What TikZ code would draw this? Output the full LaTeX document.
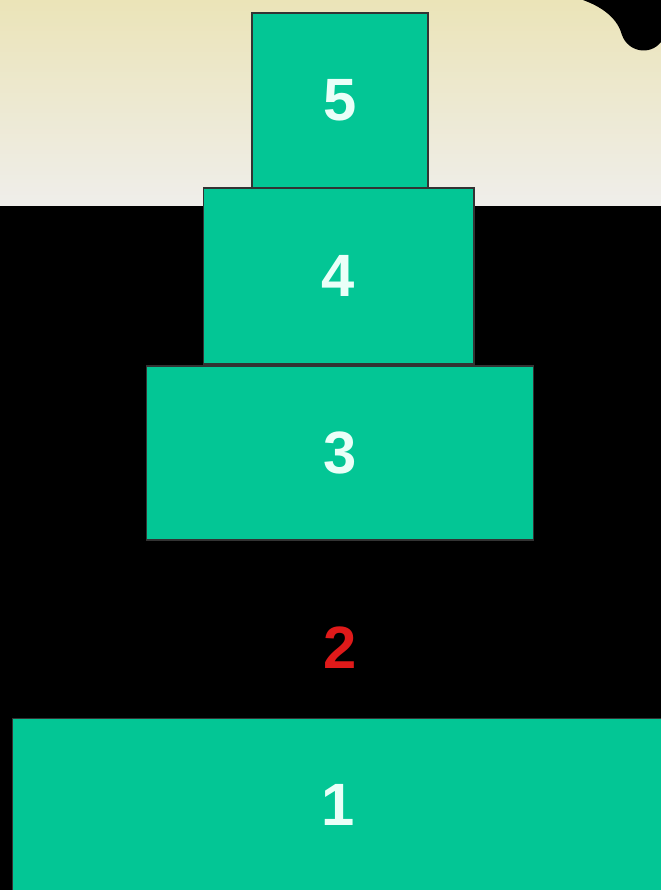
\documentclass[tikz,border=0pt]{standalone}
\usepackage{fontspec}
\setmainfont{Liberation Sans}
\usepackage{xcolor}
\usepackage{tikz}
\usetikzlibrary{positioning}
\definecolor{diskGreen}{HTML}{03C695}
\definecolor{diskText}{HTML}{EAFFF8}
\definecolor{gapRed}{HTML}{E01A1A}
\definecolor{creamTop}{HTML}{EBE4B8}
\definecolor{creamLow}{HTML}{EFEEEA}

\begin{document}
\begin{tikzpicture}[x=0.02cm, y=-0.02cm,
  disk/.style={draw=black!80, line width=0.6pt, fill=diskGreen, inner sep=0pt,
    text=diskText, font=\fontsize{34}{40}\selectfont\bfseries},
  gap/.style={text=gapRed, font=\fontsize{34}{40}\selectfont\bfseries}]
\useasboundingbox (0,0) rectangle (661,890);
% backdrop: black stage, cream wall above
\fill[black] (0,0) rectangle (661,890);
\shade[top color=creamTop, bottom color=creamLow] (0,0) rectangle (661,205);
\fill[black] (583,0) .. controls (605,8) and (618,20) .. (622,35)
  .. controls (628,52) and (650,56) .. (661,42) -- (661,0) -- cycle;
% the stack, top to bottom
\node[disk, minimum width=3.52cm, minimum height=3.5cm] (d5) at (340,100.5) {5};
\node[disk, minimum width=5.42cm, minimum height=3.52cm] (d4) at (338.5,276) {4};
\node[disk, minimum width=7.76cm, minimum height=3.48cm] (d3) at (340,453) {3};
\node[gap] (t2) at (340,648) {2};
\node[disk, minimum width=13.04cm, minimum height=3.48cm] (d1) at (338,805) {1};
\end{tikzpicture}
\end{document}
